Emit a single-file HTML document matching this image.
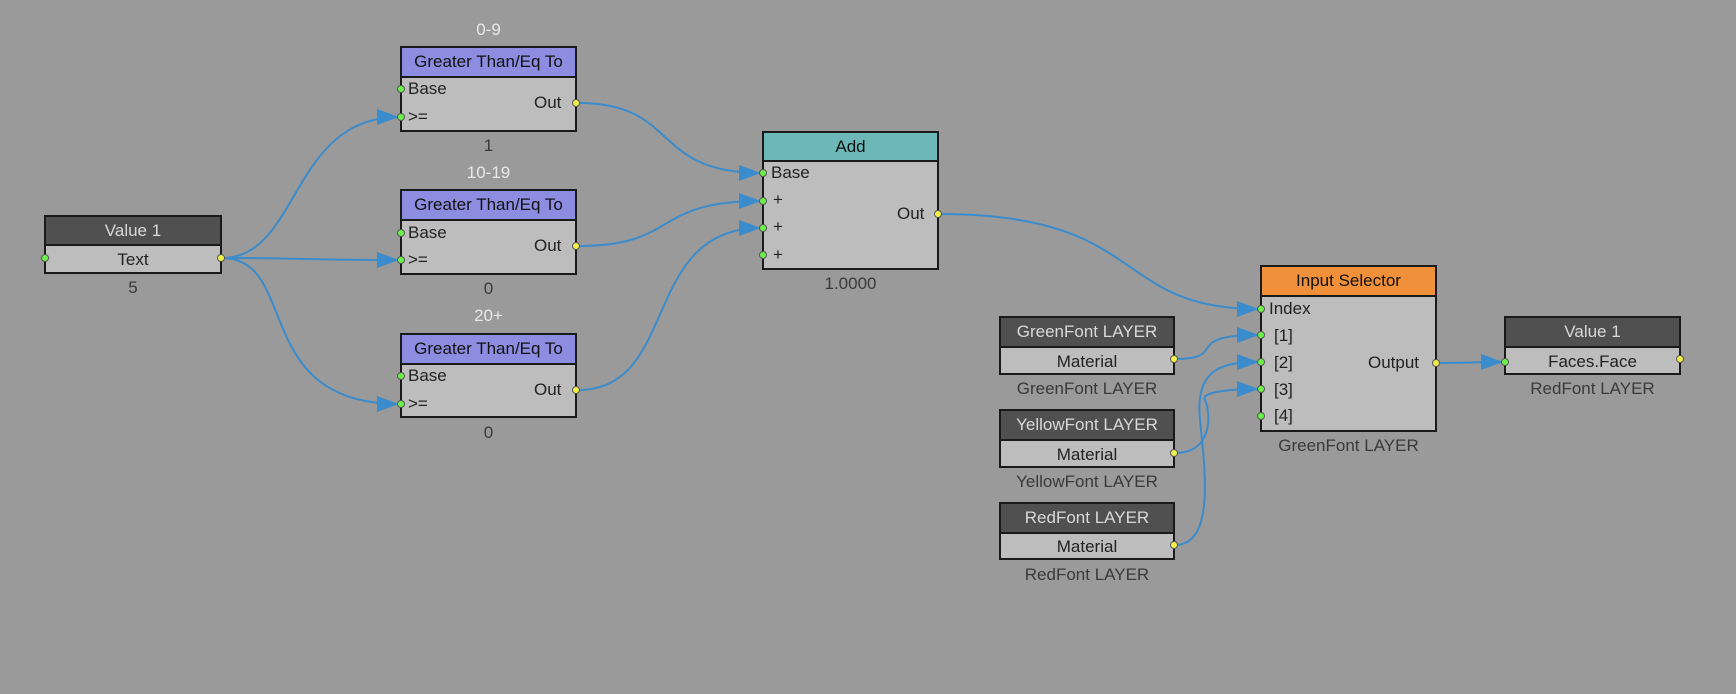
<!DOCTYPE html>
<html><head><meta charset="utf-8"><style>
body{margin:0;width:1736px;height:694px;background:#9a9a9a;position:relative;overflow:hidden;font-family:"Liberation Sans",sans-serif;font-size:17px}
.n{position:absolute;border:2px solid #1a1a1a;background:#bdbdbd;box-sizing:border-box}
.h{border-bottom:2px solid #1a1a1a;text-align:center;box-sizing:border-box}
.dk{background:#505050;color:#d8d8d8}
.pu{background:#8c8ce0;color:#111}
.te{background:#6cb8b8;color:#111}
.or{background:#f0903a;color:#111}
.t{position:absolute;color:#222;white-space:nowrap}
.lb{position:absolute;color:#3a3a3a;text-align:center;white-space:nowrap}
.lw{position:absolute;color:#e8e8e8;text-align:center}
svg{position:absolute;left:0;top:0}
</style></head><body>

<div class="n" style="left:44px;top:215px;width:178px;height:59px"><div class="h dk" style="height:29px;line-height:27px">Value 1</div><div style="text-align:center;line-height:28px;color:#222">Text</div></div>
<div class="lb" style="left:44px;width:178px;top:278px">5</div>

<div class="lw" style="left:400px;width:177px;top:20px">0-9</div>
<div class="n" style="left:400px;top:46px;width:177px;height:86px"><div class="h pu" style="height:30px;line-height:28px">Greater Than/Eq To</div></div>
<div class="t" style="left:408px;top:79px">Base</div><div class="t" style="left:408px;top:107px">&gt;=</div><div class="t" style="left:534px;top:93px">Out</div>
<div class="lb" style="left:400px;width:177px;top:136px">1</div>

<div class="lw" style="left:400px;width:177px;top:163px">10-19</div>
<div class="n" style="left:400px;top:189px;width:177px;height:86px"><div class="h pu" style="height:30px;line-height:28px">Greater Than/Eq To</div></div>
<div class="t" style="left:408px;top:223px">Base</div><div class="t" style="left:408px;top:250px">&gt;=</div><div class="t" style="left:534px;top:236px">Out</div>
<div class="lb" style="left:400px;width:177px;top:279px">0</div>

<div class="lw" style="left:400px;width:177px;top:306px">20+</div>
<div class="n" style="left:400px;top:333px;width:177px;height:85px"><div class="h pu" style="height:30px;line-height:28px">Greater Than/Eq To</div></div>
<div class="t" style="left:408px;top:366px">Base</div><div class="t" style="left:408px;top:394px">&gt;=</div><div class="t" style="left:534px;top:380px">Out</div>
<div class="lb" style="left:400px;width:177px;top:423px">0</div>

<div class="n" style="left:762px;top:131px;width:177px;height:139px"><div class="h te" style="height:29px;line-height:27px">Add</div></div>
<div class="t" style="left:771px;top:163px">Base</div><div class="t" style="left:773px;top:190px">+</div><div class="t" style="left:773px;top:217px">+</div><div class="t" style="left:773px;top:245px">+</div>
<div class="t" style="left:897px;top:204px">Out</div>
<div class="lb" style="left:762px;width:177px;top:274px">1.0000</div>

<div class="n" style="left:999px;top:316px;width:176px;height:59px"><div class="h dk" style="height:30px;line-height:28px">GreenFont LAYER</div><div style="text-align:center;line-height:27px;color:#222">Material</div></div>
<div class="lb" style="left:999px;width:176px;top:379px">GreenFont LAYER</div>
<div class="n" style="left:999px;top:409px;width:176px;height:59px"><div class="h dk" style="height:30px;line-height:28px">YellowFont LAYER</div><div style="text-align:center;line-height:27px;color:#222">Material</div></div>
<div class="lb" style="left:999px;width:176px;top:472px">YellowFont LAYER</div>
<div class="n" style="left:999px;top:502px;width:176px;height:58px"><div class="h dk" style="height:30px;line-height:28px">RedFont LAYER</div><div style="text-align:center;line-height:26px;color:#222">Material</div></div>
<div class="lb" style="left:999px;width:176px;top:565px">RedFont LAYER</div>

<div class="n" style="left:1260px;top:265px;width:177px;height:167px"><div class="h or" style="height:30px;line-height:28px">Input Selector</div></div>
<div class="t" style="left:1269px;top:299px">Index</div>
<div class="t" style="left:1274px;top:326px">[1]</div><div class="t" style="left:1274px;top:353px">[2]</div><div class="t" style="left:1274px;top:380px">[3]</div><div class="t" style="left:1274px;top:406px">[4]</div>
<div class="t" style="left:1368px;top:353px">Output</div>
<div class="lb" style="left:1260px;width:177px;top:436px">GreenFont LAYER</div>

<div class="n" style="left:1504px;top:316px;width:177px;height:59px"><div class="h dk" style="height:30px;line-height:28px">Value 1</div><div style="text-align:center;line-height:27px;color:#222">Faces.Face</div></div>
<div class="lb" style="left:1504px;width:177px;top:379px">RedFont LAYER</div>

<svg width="1736" height="694">
<defs><marker id="a" markerWidth="22" markerHeight="16" refX="22" refY="8" orient="auto" markerUnits="userSpaceOnUse"><path d="M0,0L22,8L0,16Z" fill="#3a8ccc"/></marker></defs>
<g fill="none" stroke="#3a8ccc" stroke-width="2" marker-end="url(#a)">
<path d="M222,258C300,258 290,117 399,117"/>
<path d="M222,258C300,258 300,260 399,260"/>
<path d="M222,258C300,258 250,404 399,404"/>
<path d="M578,103C680,103 650,173 761,173"/>
<path d="M578,246C680,246 650,201 761,201"/>
<path d="M578,390C680,390 640,228 761,228"/>
<path d="M939,214C1150,214 1110,309 1259,309"/>
<path d="M1175,359C1230,359 1180,335 1259,335"/>
<path d="M1175,545C1215,545 1205,470 1200,420C1195,370 1220,362 1259,362"/>
<path d="M1175,453C1215,453 1210,410 1205,400C1200,392 1230,389 1259,389"/>
<path d="M1437,363C1470,363 1470,362 1503,362"/>
</g>
<g stroke="#555" stroke-width="1">
<g fill="#6cf04a">
<circle cx="45" cy="258" r="3.5"/>
<circle cx="401" cy="89" r="3.5"/><circle cx="401" cy="117" r="3.5"/>
<circle cx="401" cy="233" r="3.5"/><circle cx="401" cy="260" r="3.5"/>
<circle cx="401" cy="376" r="3.5"/><circle cx="401" cy="404" r="3.5"/>
<circle cx="763" cy="173" r="3.5"/><circle cx="763" cy="201" r="3.5"/><circle cx="763" cy="228" r="3.5"/><circle cx="763" cy="255" r="3.5"/>
<circle cx="1261" cy="309" r="3.5"/><circle cx="1261" cy="335" r="3.5"/><circle cx="1261" cy="362" r="3.5"/><circle cx="1261" cy="389" r="3.5"/><circle cx="1261" cy="416" r="3.5"/>
<circle cx="1505" cy="362" r="3.5"/>
</g>
<g fill="#f4f04a">
<circle cx="221" cy="258" r="3.5"/>
<circle cx="576" cy="103" r="3.5"/><circle cx="576" cy="246" r="3.5"/><circle cx="576" cy="390" r="3.5"/>
<circle cx="938" cy="214" r="3.5"/>
<circle cx="1174" cy="359" r="3.5"/><circle cx="1174" cy="453" r="3.5"/><circle cx="1174" cy="545" r="3.5"/>
<circle cx="1436" cy="363" r="3.5"/><circle cx="1680" cy="359" r="3.5"/>
</g></g>
</svg>
</body></html>
